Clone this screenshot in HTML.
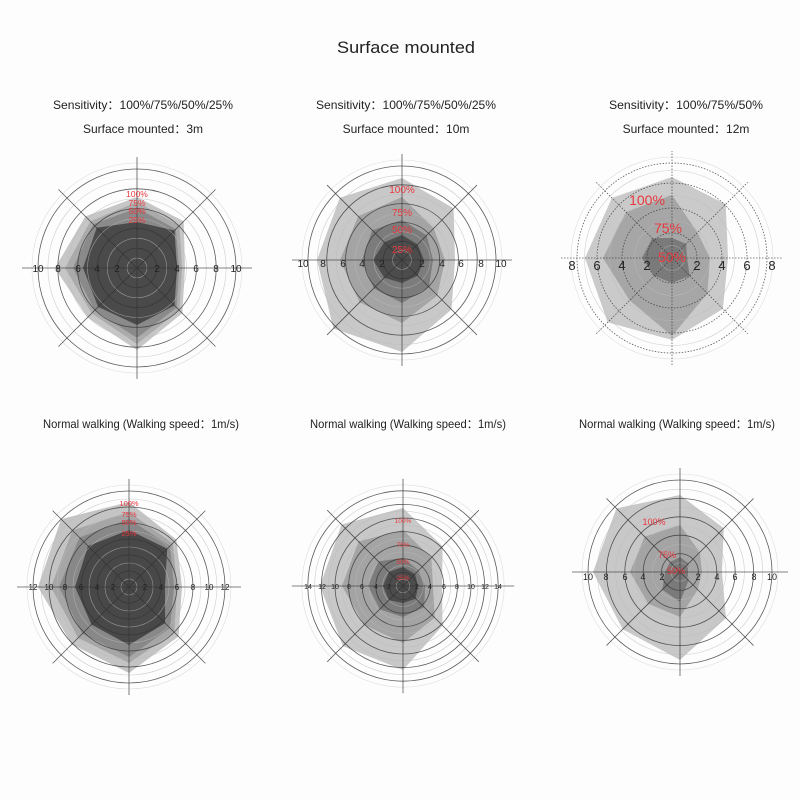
<!DOCTYPE html>
<html><head><meta charset="utf-8"><style>
html,body{margin:0;padding:0;background:#fdfdfd;}
svg{display:block;font-family:"Liberation Sans","Noto Sans CJK SC",sans-serif;}
.t{font-size:12px;fill:#222;text-anchor:middle}
.k{fill:#222;text-anchor:middle}
.r{fill:#e8383d;text-anchor:middle}
</style></head><body>
<svg id="s" width="800" height="800" viewBox="0 0 800 800">
<rect width="800" height="800" fill="#fdfdfd"/>
<g id="shapes"></g>
<text x="406" y="53" style="font-size:17px;fill:#222;text-anchor:middle" textLength="138" lengthAdjust="spacingAndGlyphs">Surface mounted</text>
<text class="t" x="143" y="109" textLength="180" lengthAdjust="spacingAndGlyphs">Sensitivity：100%/75%/50%/25%</text>
<text class="t" x="143" y="133">Surface mounted：3m</text>
<text class="t" x="406" y="109" textLength="180" lengthAdjust="spacingAndGlyphs">Sensitivity：100%/75%/50%/25%</text>
<text class="t" x="406" y="133">Surface mounted：10m</text>
<text class="t" x="686" y="109" textLength="154" lengthAdjust="spacingAndGlyphs">Sensitivity：100%/75%/50%</text>
<text class="t" x="686" y="133">Surface mounted：12m</text>
<text class="t" x="141" y="428" textLength="196" lengthAdjust="spacingAndGlyphs">Normal walking (Walking speed：1m/s)</text>
<text class="t" x="408" y="428" textLength="196" lengthAdjust="spacingAndGlyphs">Normal walking (Walking speed：1m/s)</text>
<text class="t" x="677" y="428" textLength="196" lengthAdjust="spacingAndGlyphs">Normal walking (Walking speed：1m/s)</text>

<g class="k" style="font-size:10px">
<text x="38" y="272">10</text><text x="58" y="272">8</text><text x="78" y="272">6</text><text x="97" y="272">4</text><text x="117" y="272">2</text>
<text x="157" y="272">2</text><text x="177" y="272">4</text><text x="196" y="272">6</text><text x="216" y="272">8</text><text x="236" y="272">10</text>
<text x="303" y="267">10</text><text x="323" y="267">8</text><text x="343" y="267">6</text><text x="362" y="267">4</text><text x="382" y="267">2</text>
<text x="422" y="267">2</text><text x="442" y="267">4</text><text x="461" y="267">6</text><text x="481" y="267">8</text><text x="501" y="267">10</text>
</g>
<g class="k" style="font-size:13px">
<text x="572" y="270">8</text><text x="597" y="270">6</text><text x="622" y="270">4</text><text x="647" y="270">2</text>
<text x="697" y="270">2</text><text x="722" y="270">4</text><text x="747" y="270">6</text><text x="772" y="270">8</text>
</g>
<g class="k" style="font-size:8px">
<text x="33" y="590">12</text><text x="49" y="590">10</text><text x="65" y="590">8</text><text x="81" y="590">6</text><text x="97" y="590">4</text><text x="113" y="590">2</text>
<text x="145" y="590">2</text><text x="161" y="590">4</text><text x="177" y="590">6</text><text x="193" y="590">8</text><text x="209" y="590">10</text><text x="225" y="590">12</text>
</g>
<g class="k" style="font-size:7px">
<text x="308" y="589">14</text><text x="322" y="589">12</text><text x="335" y="589">10</text><text x="349" y="589">8</text><text x="362" y="589">6</text><text x="376" y="589">4</text><text x="389" y="589">2</text>
<text x="417" y="589">2</text><text x="430" y="589">4</text><text x="444" y="589">6</text><text x="457" y="589">8</text><text x="471" y="589">10</text><text x="485" y="589">12</text><text x="498" y="589">14</text>
</g>
<g class="k" style="font-size:9px">
<text x="588" y="580">10</text><text x="606" y="580">8</text><text x="625" y="580">6</text><text x="643" y="580">4</text><text x="662" y="580">2</text>
<text x="698" y="580">2</text><text x="717" y="580">4</text><text x="735" y="580">6</text><text x="754" y="580">8</text><text x="772" y="580">10</text>
</g>

<g class="r" style="font-size:8.5px">
<text x="137" y="197">100%</text><text x="137" y="206">75%</text><text x="137" y="214">50%</text><text x="137" y="223">25%</text>
</g>
<g class="r" style="font-size:10px">
<text x="402" y="193">100%</text><text x="402" y="216">75%</text><text x="402" y="233">50%</text><text x="402" y="253">25%</text>
</g>
<g class="r" style="font-size:14px">
<text x="647" y="205">100%</text><text x="668" y="233">75%</text><text x="672" y="262">50%</text>
</g>
<g class="r" style="font-size:7.5px">
<text x="129" y="506">100%</text><text x="129" y="517">75%</text><text x="129" y="525">50%</text><text x="129" y="536">25%</text>
</g>
<g class="r" style="font-size:6.5px">
<text x="403" y="523">100%</text><text x="403" y="547">75%</text><text x="403" y="564">50%</text><text x="403" y="580">25%</text>
</g>
<g class="r" style="font-size:9px">
<text x="654" y="525">100%</text><text x="667" y="558">75%</text><text x="676" y="574">50%</text>
</g>
</svg>
<script>
var NS="http://www.w3.org/2000/svg",G=document.getElementById("shapes");
function el(n,a){var e=document.createElementNS(NS,n);for(var k in a)e.setAttribute(k,a[k]);G.appendChild(e);return e;}
var C=[
{cx:137,cy:268,u:9.9,n:10,dot:0,L:[
[[71,66,48,64,82,70,82,73],"#c6c6c6"],[[66,60,45,60,76,64,72,66],"#aaaaaa"],[[60,55,42,56,70,60,64,62],"#8a8a8a"],[[46,53,40,53,57,55,54,57],"#4a4a4a"]]},
{cx:402,cy:260,u:9.4,n:10,dot:0,L:[
[[82,73,53,70,92,97,85,88],"#c8c8c8"],[[63,45,43,50,63,60,62,62],"#a4a4a4"],[[40,35,31,38,43,40,40,42],"#7c7c7c"],[[25,22,22,22,23,25,29,25],"#4c4c4c"]]},
{cx:672,cy:258,u:12.5,n:7.6,dot:1,L:[
[[81,76,56,72,82,91,87,85],"#cacaca"],[[63,36,38,50,78,60,69,65],"#a6a6a6"],[[20,20,15,25,25,25,30,28],"#7a7a7a"]]},
{cx:129,cy:587,u:8,n:12,dot:0,L:[
[[85,67,53,70,86,81,91,96],"#c4c4c4"],[[75,62,48,64,76,72,78,80],"#a6a6a6"],[[68,58,45,58,70,66,70,70],"#888888"],[[57,54,36,51,58,53,54,58],"#484848"]]},
{cx:403,cy:586,u:6.8,n:14,dot:0,L:[
[[78,56,39,56,84,85,83,87],"#c8c8c8"],[[56,40,30,45,57,55,61,63],"#a4a4a4"],[[28,22,22,30,31,33,35,35],"#7c7c7c"],[[19,17,15,18,17,20,20,20],"#4c4c4c"]]},
{cx:680,cy:572,u:9.2,n:10,dot:0,L:[
[[77,62,42,65,88,81,87,90],"#c8c8c8"],[[47,28,22,25,45,45,50,50],"#a4a4a4"],[[15,12,8,12,30,25,15,14],"#7a7a7a"]]}
];
var A=[[0,-1],[.7071,-.7071],[1,0],[.7071,.7071],[0,1],[-.7071,.7071],[-1,0],[-.7071,-.7071]];
C.forEach(function(c){
 c.L.forEach(function(l){
  var p=l[0].map(function(r,i){return (c.cx+A[i][0]*r).toFixed(1)+","+(c.cy+A[i][1]*r).toFixed(1)}).join(" ");
  el("polygon",{points:p,fill:l[1]});
 });
 var R=c.n*c.u;
 for(var k=1;k<=Math.ceil(c.n);k++){
  var r=Math.min(k,c.n)*c.u, major=(k%2==0)||k>=c.n;
  el("circle",{cx:c.cx,cy:c.cy,r:r,fill:"none",stroke:major?"#333":"#bbb","stroke-width":major?0.8:0.6,"stroke-opacity":major?0.8:0.7,"stroke-dasharray":(c.dot&&major)?"1.5,1.5":"none"});
 }
 el("circle",{cx:c.cx,cy:c.cy,r:R+6,fill:"none",stroke:"#ddd","stroke-width":0.6});
 var L=R+12;
 for(var i=0;i<4;i++){
  var d=A[i],len=(i==2)?L+4:L;
  el("line",{x1:c.cx-d[0]*len,y1:c.cy-d[1]*len,x2:c.cx+d[0]*len,y2:c.cy+d[1]*len,stroke:"#333","stroke-width":0.8,"stroke-opacity":0.8,"stroke-dasharray":c.dot?"1.5,1.5":"none"});
 }
});
</script>
</body></html>
